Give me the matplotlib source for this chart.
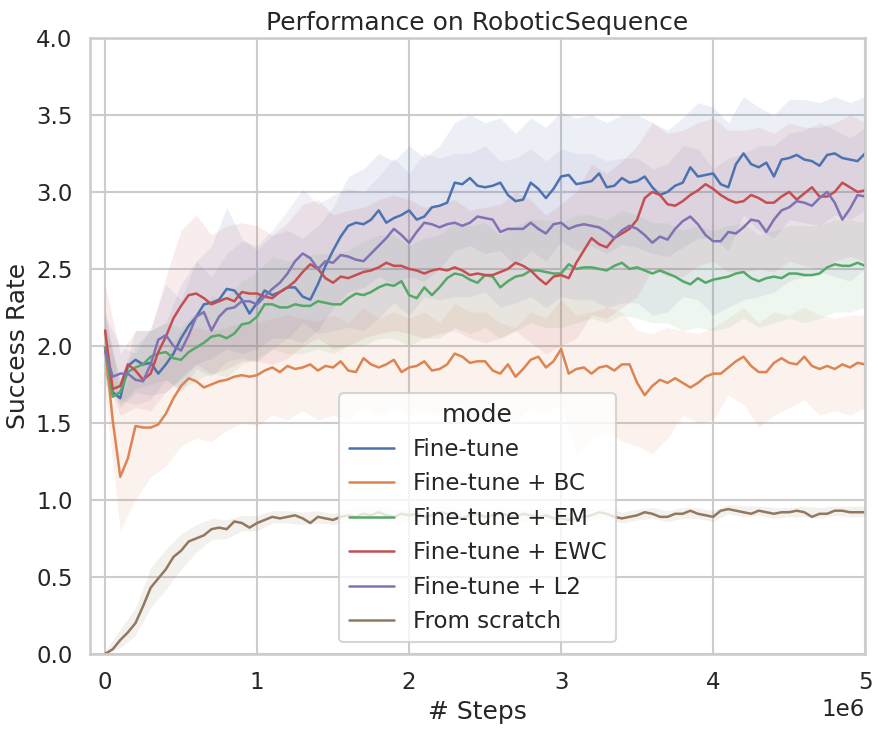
import numpy as np
import matplotlib
matplotlib.use("Agg")
import matplotlib.pyplot as plt
import seaborn as sns

# step grid for the mean curves (in millions of env steps) and for the bands
steps = np.round(np.arange(0, 5.0001, 0.05), 2) * 1e6
band_steps = np.round(np.arange(0, 5.0001, 0.1), 2) * 1e6

modes = ["Fine-tune", "Fine-tune + BC", "Fine-tune + EM",
         "Fine-tune + EWC", "Fine-tune + L2", "From scratch"]

finetune = [1.99, 1.70, 1.66, 1.87, 1.91, 1.88, 1.89, 1.82, 1.88, 1.95,
            2.05, 2.13, 2.19, 2.27, 2.28, 2.30, 2.37, 2.36, 2.30, 2.21,
            2.28, 2.36, 2.33, 2.35, 2.38, 2.38, 2.32, 2.30, 2.40, 2.52,
            2.62, 2.71, 2.78, 2.80, 2.79, 2.82, 2.88, 2.80, 2.83, 2.85,
            2.88, 2.82, 2.84, 2.90, 2.91, 2.93, 3.06, 3.05, 3.09, 3.04,
            3.03, 3.04, 3.06, 2.98, 2.94, 2.95, 3.06, 3.02, 2.96, 3.02,
            3.10, 3.11, 3.05, 3.06, 3.07, 3.12, 3.03, 3.04, 3.09, 3.06,
            3.07, 3.10, 3.03, 2.98, 3.00, 3.04, 3.06, 3.16, 3.10, 3.11,
            3.12, 3.05, 3.03, 3.18, 3.25, 3.18, 3.16, 3.19, 3.10, 3.21,
            3.22, 3.24, 3.21, 3.20, 3.17, 3.24, 3.25, 3.22, 3.21, 3.20,
            3.25]
finetune_bc = [1.99, 1.52, 1.15, 1.27, 1.48, 1.47, 1.47, 1.49, 1.56, 1.66,
               1.74, 1.79, 1.77, 1.73, 1.75, 1.77, 1.78, 1.80, 1.81, 1.80,
               1.81, 1.84, 1.86, 1.83, 1.87, 1.85, 1.86, 1.88, 1.84, 1.87,
               1.86, 1.90, 1.84, 1.83, 1.92, 1.88, 1.86, 1.88, 1.91, 1.83,
               1.86, 1.87, 1.90, 1.84, 1.85, 1.88, 1.95, 1.93, 1.89, 1.90,
               1.90, 1.84, 1.82, 1.88, 1.80, 1.85, 1.91, 1.93, 1.86, 1.90,
               1.98, 1.82, 1.85, 1.86, 1.82, 1.86, 1.87, 1.84, 1.88, 1.88,
               1.76, 1.68, 1.74, 1.78, 1.76, 1.79, 1.76, 1.73, 1.76, 1.80,
               1.82, 1.82, 1.86, 1.90, 1.93, 1.87, 1.83, 1.83, 1.89, 1.92,
               1.89, 1.88, 1.93, 1.87, 1.85, 1.87, 1.85, 1.88, 1.86, 1.89,
               1.88]
finetune_em = [1.99, 1.67, 1.70, 1.83, 1.86, 1.88, 1.93, 1.95, 1.96, 1.92,
               1.91, 1.96, 1.99, 2.02, 2.06, 2.07, 2.05, 2.08, 2.14, 2.15,
               2.19, 2.27, 2.27, 2.25, 2.25, 2.27, 2.26, 2.26, 2.29, 2.28,
               2.27, 2.27, 2.31, 2.34, 2.33, 2.35, 2.38, 2.40, 2.39, 2.42,
               2.33, 2.31, 2.38, 2.33, 2.38, 2.44, 2.47, 2.46, 2.43, 2.41,
               2.46, 2.45, 2.38, 2.42, 2.45, 2.46, 2.49, 2.49, 2.48, 2.47,
               2.47, 2.53, 2.50, 2.51, 2.51, 2.50, 2.49, 2.52, 2.54, 2.50,
               2.51, 2.49, 2.47, 2.49, 2.47, 2.45, 2.42, 2.40, 2.44, 2.41,
               2.43, 2.44, 2.45, 2.47, 2.48, 2.44, 2.42, 2.44, 2.45, 2.44,
               2.47, 2.47, 2.46, 2.46, 2.47, 2.51, 2.53, 2.52, 2.52, 2.54,
               2.52]
finetune_ewc = [2.10, 1.72, 1.74, 1.88, 1.84, 1.78, 1.82, 1.96, 2.06, 2.18,
                2.26, 2.33, 2.34, 2.31, 2.27, 2.29, 2.31, 2.29, 2.35, 2.34,
                2.34, 2.32, 2.31, 2.35, 2.38, 2.42, 2.48, 2.53, 2.50, 2.44,
                2.41, 2.45, 2.44, 2.46, 2.48, 2.49, 2.51, 2.54, 2.52, 2.52,
                2.50, 2.49, 2.47, 2.49, 2.50, 2.49, 2.51, 2.49, 2.46, 2.47,
                2.46, 2.46, 2.48, 2.50, 2.54, 2.52, 2.49, 2.44, 2.40, 2.45,
                2.46, 2.44, 2.54, 2.62, 2.70, 2.66, 2.64, 2.70, 2.73, 2.76,
                2.82, 2.96, 3.00, 2.98, 2.92, 2.91, 2.94, 2.98, 3.01, 3.05,
                3.02, 2.98, 2.95, 2.93, 2.94, 2.98, 2.96, 2.93, 2.93, 2.97,
                3.00, 2.95, 2.99, 3.03, 2.97, 2.97, 3.00, 3.06, 3.03, 3.00,
                3.01]
finetune_l2 = [1.97, 1.80, 1.82, 1.82, 1.78, 1.77, 1.88, 2.04, 2.07, 2.00,
               1.97, 2.07, 2.19, 2.22, 2.10, 2.19, 2.24, 2.25, 2.29, 2.29,
               2.27, 2.32, 2.37, 2.41, 2.47, 2.55, 2.60, 2.57, 2.50, 2.55,
               2.54, 2.59, 2.58, 2.56, 2.55, 2.60, 2.65, 2.70, 2.76, 2.72,
               2.67, 2.74, 2.80, 2.79, 2.77, 2.79, 2.80, 2.78, 2.80, 2.84,
               2.83, 2.82, 2.74, 2.76, 2.76, 2.76, 2.80, 2.76, 2.73, 2.79,
               2.80, 2.76, 2.78, 2.79, 2.78, 2.77, 2.74, 2.70, 2.75, 2.78,
               2.76, 2.72, 2.67, 2.71, 2.69, 2.76, 2.81, 2.84, 2.79, 2.72,
               2.68, 2.68, 2.74, 2.73, 2.77, 2.82, 2.81, 2.74, 2.82, 2.88,
               2.90, 2.94, 2.93, 2.91, 2.96, 3.00, 2.93, 2.82, 2.89, 2.98,
               2.97]
from_scratch = [0.00, 0.03, 0.09, 0.14, 0.20, 0.31, 0.43, 0.49, 0.55, 0.63,
                0.67, 0.73, 0.75, 0.77, 0.81, 0.82, 0.81, 0.86, 0.85, 0.82,
                0.85, 0.87, 0.89, 0.88, 0.89, 0.90, 0.88, 0.85, 0.89, 0.88,
                0.87, 0.89, 0.90, 0.89, 0.91, 0.90, 0.92, 0.90, 0.89, 0.91,
                0.90, 0.91, 0.89, 0.90, 0.92, 0.91, 0.90, 0.88, 0.90, 0.91,
                0.89, 0.90, 0.91, 0.90, 0.89, 0.91, 0.90, 0.89, 0.90, 0.88,
                0.88, 0.87, 0.88, 0.89, 0.90, 0.92, 0.91, 0.89, 0.88, 0.89,
                0.90, 0.92, 0.91, 0.89, 0.89, 0.91, 0.91, 0.93, 0.91, 0.90,
                0.89, 0.93, 0.94, 0.93, 0.92, 0.91, 0.93, 0.92, 0.91, 0.92,
                0.92, 0.93, 0.92, 0.89, 0.91, 0.91, 0.93, 0.93, 0.92, 0.92,
                0.92]

# confidence bands (lower / upper), one value every 0.1e6 steps
finetune_lo = [1.80, 1.60, 1.70, 1.68, 1.70, 1.78, 1.88, 1.92, 1.98, 1.95,
               1.98, 2.05, 2.05, 2.02, 2.10, 2.25, 2.35, 2.38, 2.45, 2.40,
               2.45, 2.42, 2.50, 2.62, 2.65, 2.60, 2.62, 2.52, 2.62, 2.55,
               2.68, 2.62, 2.65, 2.60, 2.66, 2.64, 2.60, 2.58, 2.64, 2.70,
               2.70, 2.62, 2.85, 2.75, 2.70, 2.82, 2.80, 2.78, 2.85, 2.82,
               2.88]
finetune_hi = [2.20, 1.75, 2.10, 2.10, 2.15, 2.40, 2.55, 2.65, 2.90, 2.70,
               2.62, 2.72, 2.75, 2.70, 2.78, 2.90, 3.10, 3.15, 3.25, 3.20,
               3.30, 3.22, 3.30, 3.45, 3.50, 3.45, 3.48, 3.38, 3.48, 3.42,
               3.52, 3.48, 3.50, 3.45, 3.50, 3.50, 3.45, 3.40, 3.48, 3.58,
               3.55, 3.45, 3.62, 3.55, 3.50, 3.60, 3.60, 3.58, 3.62, 3.58,
               3.62]
finetune_bc_lo = [1.70, 0.80, 1.00, 1.15, 1.22, 1.35, 1.40, 1.38, 1.45, 1.50,
                  1.48, 1.55, 1.52, 1.58, 1.52, 1.55, 1.52, 1.60, 1.55, 1.60,
                  1.55, 1.58, 1.55, 1.62, 1.58, 1.60, 1.55, 1.50, 1.60, 1.56,
                  1.62, 1.30, 1.40, 1.45, 1.38, 1.35, 1.30, 1.40, 1.55, 1.50,
                  1.52, 1.68, 1.62, 1.47, 1.55, 1.60, 1.65, 1.55, 1.58, 1.55,
                  1.60]
finetune_bc_hi = [2.25, 1.65, 1.90, 1.90, 1.95, 2.10, 2.12, 2.10, 2.12, 2.15,
                  2.15, 2.18, 2.20, 2.18, 2.16, 2.20, 2.15, 2.25, 2.18, 2.22,
                  2.18, 2.22, 2.15, 2.28, 2.22, 2.22, 2.15, 2.12, 2.22, 2.18,
                  2.30, 2.20, 2.22, 2.25, 2.22, 2.10, 2.08, 2.12, 2.10, 2.08,
                  2.12, 2.18, 2.25, 2.15, 2.22, 2.20, 2.25, 2.20, 2.18, 2.20,
                  2.20]
finetune_em_lo = [1.80, 1.62, 1.72, 1.75, 1.78, 1.72, 1.78, 1.82, 1.80, 1.88,
                  1.92, 1.98, 1.95, 1.95, 1.98, 1.95, 2.00, 2.00, 2.05, 2.05,
                  2.00, 2.05, 2.05, 2.12, 2.08, 2.12, 2.05, 2.10, 2.15, 2.12,
                  2.12, 2.15, 2.18, 2.15, 2.20, 2.18, 2.15, 2.15, 2.10, 2.12,
                  2.10, 2.12, 2.18, 2.12, 2.15, 2.18, 2.15, 2.18, 2.22, 2.22,
                  2.25]
finetune_em_hi = [2.15, 1.78, 2.00, 2.10, 2.15, 2.12, 2.22, 2.32, 2.32, 2.42,
                  2.48, 2.58, 2.55, 2.58, 2.60, 2.60, 2.62, 2.68, 2.72, 2.72,
                  2.65, 2.70, 2.72, 2.80, 2.78, 2.80, 2.72, 2.78, 2.82, 2.82,
                  2.80, 2.85, 2.85, 2.82, 2.88, 2.85, 2.80, 2.80, 2.75, 2.78,
                  2.75, 2.78, 2.80, 2.72, 2.75, 2.78, 2.78, 2.78, 2.82, 2.82,
                  2.80]
finetune_ewc_lo = [1.80, 1.55, 1.60, 1.58, 1.70, 1.80, 1.88, 1.82, 1.85, 1.90,
                   1.90, 1.88, 1.92, 2.00, 2.05, 1.98, 2.00, 2.05, 2.08, 2.10,
                   2.08, 2.05, 2.08, 2.10, 2.05, 2.02, 2.05, 2.10, 2.02, 1.95,
                   2.00, 2.05, 2.20, 2.18, 2.25, 2.32, 2.50, 2.45, 2.45, 2.52,
                   2.55, 2.48, 2.48, 2.50, 2.48, 2.55, 2.52, 2.50, 2.55, 2.58,
                   2.55]
finetune_ewc_hi = [2.40, 1.95, 2.10, 2.10, 2.45, 2.75, 2.85, 2.72, 2.78, 2.80,
                   2.78, 2.72, 2.80, 2.92, 2.95, 2.85, 2.88, 2.90, 2.95, 2.98,
                   2.95, 2.90, 2.92, 2.95, 2.88, 2.90, 2.92, 3.00, 2.95, 2.85,
                   2.92, 3.00, 3.18, 3.12, 3.20, 3.30, 3.45, 3.38, 3.40, 3.45,
                   3.48, 3.40, 3.40, 3.42, 3.38, 3.45, 3.42, 3.42, 3.45, 3.50,
                   3.45]
finetune_l2_lo = [1.75, 1.65, 1.62, 1.65, 1.78, 1.70, 1.85, 1.80, 1.90, 1.92,
                  1.90, 1.98, 2.05, 2.15, 2.08, 2.10, 2.12, 2.10, 2.18, 2.28,
                  2.20, 2.32, 2.30, 2.32, 2.32, 2.35, 2.25, 2.28, 2.32, 2.25,
                  2.32, 2.30, 2.30, 2.25, 2.28, 2.28, 2.20, 2.22, 2.32, 2.30,
                  2.20, 2.25, 2.30, 2.32, 2.35, 2.42, 2.45, 2.48, 2.45, 2.42,
                  2.50]
finetune_l2_hi = [2.20, 2.00, 1.95, 2.12, 2.40, 2.30, 2.55, 2.45, 2.60, 2.68,
                  2.65, 2.75, 2.88, 3.02, 2.92, 2.98, 3.02, 3.00, 3.10, 3.22,
                  3.12, 3.25, 3.22, 3.25, 3.25, 3.30, 3.20, 3.22, 3.28, 3.20,
                  3.28, 3.25, 3.25, 3.20, 3.22, 3.22, 3.15, 3.18, 3.30, 3.28,
                  3.15, 3.22, 3.25, 3.30, 3.30, 3.38, 3.40, 3.45, 3.40, 3.35,
                  3.42]
from_scratch_lo = [0.00, 0.04, 0.12, 0.30, 0.42, 0.55, 0.66, 0.74, 0.75, 0.80,
                   0.80, 0.85, 0.85, 0.84, 0.85, 0.84, 0.86, 0.87, 0.88, 0.86,
                   0.87, 0.86, 0.88, 0.87, 0.87, 0.86, 0.88, 0.86, 0.87, 0.87,
                   0.85, 0.85, 0.87, 0.88, 0.85, 0.87, 0.88, 0.86, 0.88, 0.88,
                   0.86, 0.91, 0.89, 0.90, 0.88, 0.89, 0.89, 0.88, 0.90, 0.89,
                   0.89]
from_scratch_hi = [0.02, 0.16, 0.30, 0.56, 0.68, 0.78, 0.84, 0.88, 0.87, 0.90,
                   0.90, 0.93, 0.93, 0.92, 0.93, 0.91, 0.94, 0.95, 0.96, 0.93,
                   0.94, 0.93, 0.96, 0.94, 0.94, 0.93, 0.95, 0.93, 0.94, 0.94,
                   0.92, 0.92, 0.94, 0.95, 0.92, 0.94, 0.95, 0.93, 0.95, 0.95,
                   0.93, 0.97, 0.96, 0.96, 0.95, 0.95, 0.96, 0.95, 0.96, 0.96,
                   0.96]

means = [finetune, finetune_bc, finetune_em, finetune_ewc, finetune_l2, from_scratch]
lows = [finetune_lo, finetune_bc_lo, finetune_em_lo, finetune_ewc_lo,
        finetune_l2_lo, from_scratch_lo]
highs = [finetune_hi, finetune_bc_hi, finetune_em_hi, finetune_ewc_hi,
         finetune_l2_hi, from_scratch_hi]

sns.set_theme(style="whitegrid", context="talk")
colors = sns.color_palette("deep", 6)

fig, ax = plt.subplots(figsize=(8.81, 7.29), dpi=100)
fig.subplots_adjust(left=0.102, right=0.982, top=0.948, bottom=0.103)

for name, m, lo, hi, c in zip(modes, means, lows, highs, colors):
    ax.fill_between(band_steps, lo, hi, color=c, alpha=0.1, linewidth=0)
    ax.plot(steps, m, color=c, label=name, linewidth=1.8)

ax.set_xlim(-0.1e6, 5e6)
ax.set_ylim(0, 4)
ax.set_xlabel("# Steps")
ax.set_ylabel("Success Rate")
ax.set_title("Performance on RoboticSequence")
ax.legend(title="mode", loc="lower center")

fig.savefig("out.png", dpi=100)
